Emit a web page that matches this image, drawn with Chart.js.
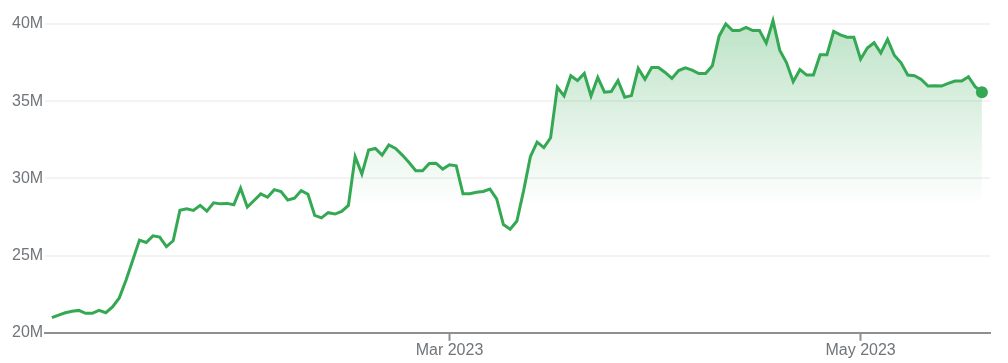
<!DOCTYPE html>
<html>
<head>
<meta charset="utf-8">
<script src="https://cdn.jsdelivr.net/npm/chart.js@4"></script>
<style>
  html, body { margin: 0; padding: 0; background: #fff; }
  #wrap { width: 1008px; height: 363px; }
</style>
</head>
<body>
<div id="wrap"><canvas id="chart"></canvas></div>
<script>
// daily values in millions, 1 Jan 2023 .. 19 May 2023
const values = [
  20.98, 21.15, 21.3, 21.4, 21.45, 21.26, 21.26, 21.45, 21.3, 21.67,
  22.26, 23.4, 24.7, 26.0, 25.85, 26.28, 26.2, 25.58, 25.96, 27.93,
  28.03, 27.93, 28.25, 27.88, 28.42, 28.35, 28.38, 28.29, 29.36, 28.14,
  28.57, 29.0, 28.78, 29.27, 29.14, 28.6, 28.72, 29.21, 28.97, 27.6,
  27.44, 27.78, 27.69, 27.86, 28.25, 31.41, 30.28, 31.84, 31.94, 31.51,
  32.16, 31.94, 31.51, 31.03, 30.49, 30.49, 30.96, 30.98, 30.6, 30.88,
  30.81, 29.0, 29.0, 29.1, 29.15, 29.31, 28.67, 27.01, 26.71, 27.24,
  29.21, 31.41, 32.35, 31.99, 32.63, 35.9, 35.34, 36.65, 36.33, 36.79,
  35.34, 36.54, 35.58, 35.62, 36.33, 35.26, 35.36, 37.12, 36.41, 37.18,
  37.18, 36.86, 36.47, 36.98, 37.16, 37.01, 36.79, 36.79, 37.29, 39.21,
  40.0, 39.57, 39.57, 39.78, 39.57, 39.57, 38.76, 40.21, 38.3, 37.5,
  36.26, 37.05, 36.69, 36.69, 38.01, 38.01, 39.51, 39.29, 39.14, 39.14,
  37.72, 38.44, 38.78, 38.12, 39.0, 37.97, 37.48, 36.69, 36.65, 36.41,
  35.98, 36.0, 35.98, 36.15, 36.3, 36.3, 36.58, 35.94, 35.58
];

// x tick positions, as day index from 1 Jan 2023
const tickDays = [59, 120];
const tickLabels = ["Mar 2023", "May 2023"];

const yTicks = [20, 25, 30, 35, 40];

const green = "#34a853";
const grey = "#70757a";
const axisGrey = "#8f8f8f";
const font = { family: "Arial, 'Liberation Sans', sans-serif", size: 16 };

const points = values.map((v, i) => ({ x: i, y: v }));

function fillGradient(context) {
  const area = context.chart.chartArea;
  if (!area) return "rgba(52,168,83,0.2)";
  const ctx = context.chart.ctx;
  const g = ctx.createLinearGradient(0, area.top + 12, 0, area.top + 195);
  g.addColorStop(0, "rgba(52,168,83,0.32)");
  g.addColorStop(1, "rgba(52,168,83,0)");
  return g;
}

new Chart(document.getElementById("chart").getContext("2d"), {
  type: "line",
  data: {
    datasets: [{
      data: points,
      borderColor: green,
      borderWidth: 3,
      backgroundColor: fillGradient,
      fill: "start",
      tension: 0,
      pointRadius: ctx => ctx.dataIndex === values.length - 1 ? 6 : 0,
      pointBackgroundColor: green,
      pointBorderWidth: 0,
      pointHoverRadius: 0
    }]
  },
  options: {
    responsive: true,
    maintainAspectRatio: false,
    animation: false,
    layout: { padding: { left: 10, right: 18, top: 3, bottom: 3 } },
    plugins: {
      legend: { display: false },
      tooltip: { enabled: false }
    },
    scales: {
      x: {
        type: "linear",
        min: -1,
        max: 139.2,
        afterBuildTicks: scale => {
          scale.ticks = tickDays.map(d => ({ value: d }));
        },
        ticks: {
          autoSkip: false,
          maxRotation: 0,
          padding: 0,
          color: grey,
          font: font,
          callback: v => tickLabels[tickDays.indexOf(v)] || ""
        },
        grid: {
          drawOnChartArea: false,
          drawTicks: true,
          tickLength: 8,
          tickColor: axisGrey,
          tickWidth: 2
        },
        border: { display: true, color: axisGrey, width: 2 }
      },
      y: {
        min: 20,
        max: 40.8,
        afterBuildTicks: scale => {
          scale.ticks = yTicks.map(v => ({ value: v }));
        },
        ticks: {
          padding: 2,
          color: grey,
          font: font,
          callback: v => v + "M"
        },
        grid: {
          color: "#f3f3f3",
          lineWidth: 2,
          drawTicks: false
        },
        border: { display: false }
      }
    }
  }
});
</script>
</body>
</html>
